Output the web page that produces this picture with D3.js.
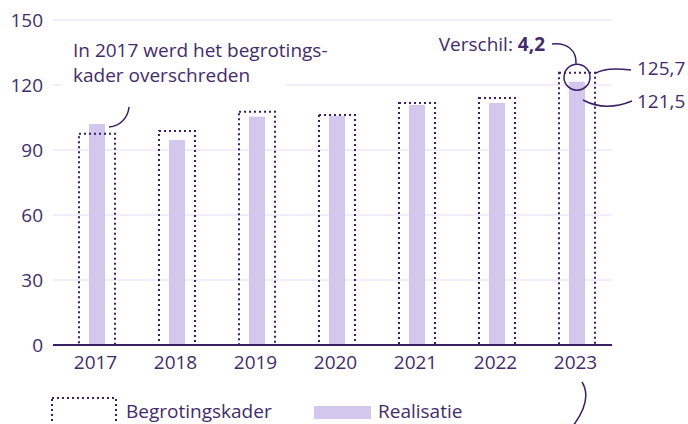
<!DOCTYPE html>
<html>
<head>
<meta charset="utf-8">
<script src="https://cdn.jsdelivr.net/npm/d3@7"></script>
<style>
  body { margin: 0; background: #fff; }
  svg { display: block; font-family: "Open Sans", Lato, sans-serif; }
</style>
</head>
<body>
<div id="chart"></div>
<script>
// data
const years = ["2017", "2018", "2019", "2020", "2021", "2022", "2023"];
const begrotingskader = [97.5, 98.8, 107.7, 106.2, 111.7, 114.0, 125.7];
const realisatie = [102.0, 94.6, 105.4, 105.7, 110.8, 111.7, 121.5];
const yTicks = [0, 30, 60, 90, 120, 150];

const W = 688, H = 424;
const dark = "#3b1f66", textCol = "#432c6b", barCol = "#d3c7ed", gridCol = "#ebe7fb";
const fontFam = "'Open Sans', Lato, sans-serif";
const fs = "19px";

const svg = d3.select("#chart").append("svg")
    .attr("width", W)
    .attr("height", H);

const x = d3.scalePoint().domain(years).range([97, 577]);
const y = d3.scaleLinear().domain([0, 150]).range([345, 20]);
const plotLeft = 53, plotRight = 612;

// gridlines
svg.append("g").selectAll("line")
    .data(yTicks.filter(d => d > 0))
    .enter().append("line")
    .attr("x1", plotLeft).attr("x2", plotRight)
    .attr("y1", d => y(d)).attr("y2", d => y(d))
    .attr("stroke", gridCol)
    .attr("stroke-width", 1.5);

// y tick labels
const yAxis = d3.axisLeft(y).tickValues(yTicks).tickSize(0).tickPadding(10).tickFormat(d3.format("d"));
svg.append("g")
    .attr("transform", `translate(${plotLeft},0)`)
    .call(yAxis)
    .call(g => g.select(".domain").remove())
    .call(g => g.selectAll("text")
        .attr("fill", textCol)
        .style("font-size", fs)
        .style("font-family", fontFam));

// white box behind the 2017 annotation
svg.append("rect")
    .attr("x", 62).attr("y", 34)
    .attr("width", 224).attr("height", 56)
    .attr("fill", "#fff");

const rows = years.map((d, i) => ({year: d, kader: begrotingskader[i], real: realisatie[i]}));

// realisatie bars
svg.append("g").selectAll("rect")
    .data(rows)
    .enter().append("rect")
    .attr("x", d => x(d.year) - 8)
    .attr("width", 16)
    .attr("y", d => y(d.real))
    .attr("height", d => y(0) - y(d.real))
    .attr("fill", barCol);

// begrotingskader dotted boxes
svg.append("g").selectAll("rect")
    .data(rows)
    .enter().append("rect")
    .attr("x", d => x(d.year) - 18)
    .attr("width", 36)
    .attr("y", d => y(d.kader))
    .attr("height", d => y(0) - y(d.kader))
    .attr("fill", "none")
    .attr("stroke", dark)
    .attr("stroke-width", 2)
    .attr("stroke-dasharray", "2,3");

// baseline
svg.append("line")
    .attr("x1", plotLeft).attr("x2", plotRight)
    .attr("y1", y(0)).attr("y2", y(0))
    .attr("stroke", dark)
    .attr("stroke-width", 2);

// x labels
const xAxis = d3.axisBottom(x).tickSize(0).tickPadding(11);
svg.append("g")
    .attr("transform", `translate(-2,${y(0)})`)
    .call(xAxis)
    .call(g => g.select(".domain").remove())
    .call(g => g.selectAll("text")
        .attr("fill", textCol)
        .style("font-size", fs)
        .style("font-family", fontFam));

// annotations
const ann = svg.append("g")
    .attr("fill", textCol)
    .style("font-size", fs);

ann.append("text").attr("x", 73).attr("y", 57).text("In 2017 werd het begrotings-");
ann.append("text").attr("x", 73).attr("y", 82).text("kader overschreden");

const x17 = x("2017"), y17 = y(realisatie[0]);
svg.append("path")
    .attr("d", `M${x17 + 32},${y17 - 17} C${x17 + 31},${y17 - 6} ${x17 + 23},${y17 + 2} ${x17 + 12},${y17 + 3}`)
    .attr("fill", "none").attr("stroke", dark).attr("stroke-width", 1.5);

const x23 = x("2023");
const cy = y((begrotingskader[6] + realisatie[6]) / 2);
svg.append("circle")
    .attr("cx", x23).attr("cy", cy).attr("r", 13)
    .attr("fill", "none").attr("stroke", dark).attr("stroke-width", 1.5);

const verschil = ann.append("text").attr("x", 545).attr("y", 51).attr("text-anchor", "end");
verschil.append("tspan").text("Verschil: ");
verschil.append("tspan").attr("font-weight", "bold").text(d3.format(".1f")(begrotingskader[6] - realisatie[6]).replace(".", ","));

svg.append("path")
    .attr("d", `M552,44 C566,42 577,50 ${x23 - 1},${cy - 13}`)
    .attr("fill", "none").attr("stroke", dark).attr("stroke-width", 1.5);

ann.append("text").attr("x", 637).attr("y", 75).text(String(begrotingskader[6]).replace(".", ","));
ann.append("text").attr("x", 637).attr("y", 108).text(String(realisatie[6]).replace(".", ","));

svg.append("path")
    .attr("d", `M${x23 + 18},${y(begrotingskader[6]) + 1} Q${x23 + 28},${y(begrotingskader[6]) - 6} 631,70`)
    .attr("fill", "none").attr("stroke", dark).attr("stroke-width", 1.5);
svg.append("path")
    .attr("d", `M${x23 + 6},100 Q605,112 632,101`)
    .attr("fill", "none").attr("stroke", dark).attr("stroke-width", 1.5);

svg.append("path")
    .attr("d", "M582,382 C590,395 585,410 573,426")
    .attr("fill", "none").attr("stroke", dark).attr("stroke-width", 1.5);

// legend
const legend = svg.append("g").style("font-size", fs).attr("fill", textCol);
legend.append("rect")
    .attr("x", 52).attr("y", 398).attr("width", 64).attr("height", 40)
    .attr("fill", "none").attr("stroke", dark)
    .attr("stroke-width", 2).attr("stroke-dasharray", "2,3");
legend.append("text").attr("x", 126).attr("y", 418).text("Begrotingskader");
legend.append("rect")
    .attr("x", 314).attr("y", 406).attr("width", 57).attr("height", 13)
    .attr("fill", barCol);
legend.append("text").attr("x", 378).attr("y", 418).text("Realisatie");
</script>
</body>
</html>
